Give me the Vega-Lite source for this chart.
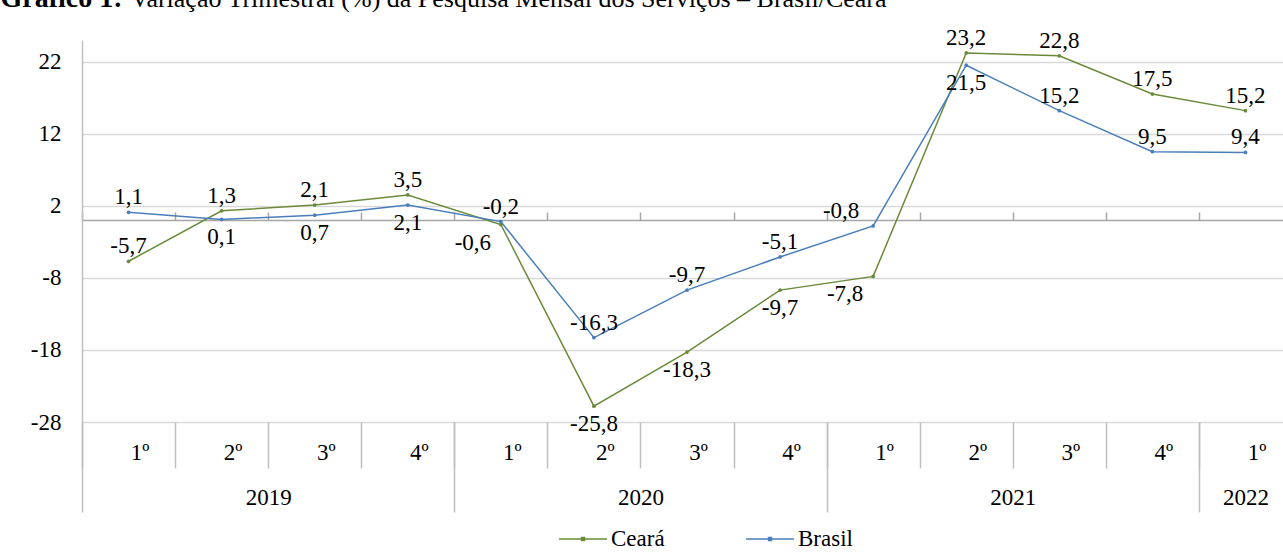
{
  "$schema": "https://vega.github.io/schema/vega-lite/v6.json",
  "width": 1210,
  "height": 382,
  "autosize": {"type": "none"},
  "padding": {"left": 82, "top": 40, "right": 0, "bottom": 135},
  "background": "white",
  "data": {"values": [
    {"periodo": 0, "ano": 2019, "serie": "Ceará", "valor": -5.7},
    {"periodo": 1, "ano": 2019, "serie": "Ceará", "valor": 1.3},
    {"periodo": 2, "ano": 2019, "serie": "Ceará", "valor": 2.1},
    {"periodo": 3, "ano": 2019, "serie": "Ceará", "valor": 3.5},
    {"periodo": 4, "ano": 2020, "serie": "Ceará", "valor": -0.6},
    {"periodo": 5, "ano": 2020, "serie": "Ceará", "valor": -25.8},
    {"periodo": 6, "ano": 2020, "serie": "Ceará", "valor": -18.3},
    {"periodo": 7, "ano": 2020, "serie": "Ceará", "valor": -9.7},
    {"periodo": 8, "ano": 2021, "serie": "Ceará", "valor": -7.8},
    {"periodo": 9, "ano": 2021, "serie": "Ceará", "valor": 23.2},
    {"periodo": 10, "ano": 2021, "serie": "Ceará", "valor": 22.8},
    {"periodo": 11, "ano": 2021, "serie": "Ceará", "valor": 17.5},
    {"periodo": 12, "ano": 2022, "serie": "Ceará", "valor": 15.2},
    {"periodo": 0, "ano": 2019, "serie": "Brasil", "valor": 1.1},
    {"periodo": 1, "ano": 2019, "serie": "Brasil", "valor": 0.1},
    {"periodo": 2, "ano": 2019, "serie": "Brasil", "valor": 0.7},
    {"periodo": 3, "ano": 2019, "serie": "Brasil", "valor": 2.1},
    {"periodo": 4, "ano": 2020, "serie": "Brasil", "valor": -0.2},
    {"periodo": 5, "ano": 2020, "serie": "Brasil", "valor": -16.3},
    {"periodo": 6, "ano": 2020, "serie": "Brasil", "valor": -9.7},
    {"periodo": 7, "ano": 2020, "serie": "Brasil", "valor": -5.1},
    {"periodo": 8, "ano": 2021, "serie": "Brasil", "valor": -0.8},
    {"periodo": 9, "ano": 2021, "serie": "Brasil", "valor": 21.5},
    {"periodo": 10, "ano": 2021, "serie": "Brasil", "valor": 15.2},
    {"periodo": 11, "ano": 2021, "serie": "Brasil", "valor": 9.5},
    {"periodo": 12, "ano": 2022, "serie": "Brasil", "valor": 9.4}
  ]},
  "encoding": {
    "y": {"field": "valor", "type": "quantitative",
      "scale": {"domain": [-28, 25], "nice": false, "zero": false},
      "axis": {"values": [-28, -18, -8, 2, 12, 22], "grid": true, "gridColor": "#d9d9d9", "gridWidth": 1.5, "domainColor": "#c0c0c0", "domainWidth": 1.5, "ticks": false, "labelPadding": 21, "labelFontSize": 23, "labelFont": "Liberation Serif", "labelColor": "black", "format": "d",
        "title": "Gráfico 1:", "titleX": -82, "titleY": -34, "titleAngle": 0, "titleAlign": "left", "titleBaseline": "alphabetic", "titleFontSize": 28, "titleFontWeight": "bold", "titleFont": "Liberation Serif", "titleColor": "black"}}
  },
  "layer": [
    {
      "mark": {"type": "line", "strokeWidth": 1.5},
      "encoding": {
        "x": {"field": "periodo", "type": "quantitative", "scale": {"domain": [-0.5, 12.5], "nice": false, "zero": false},
          "axis": {"orient": "bottom", "values": [-0.5, 0.5, 1.5, 2.5, 3.5, 4.5, 5.5, 6.5, 7.5, 8.5, 9.5, 10.5, 11.5, 12.5], "labels": false, "domain": false, "ticks": true, "tickSize": 46, "tickColor": "#bfbfbf", "tickWidth": 1.5, "grid": false, "title": null}},
        "color": {"field": "serie", "type": "nominal",
          "scale": {"domain": ["Ceará", "Brasil"], "range": ["#6a8a3a", "#4a7ebb"]},
          "legend": {"title": null, "orient": "none", "legendX": 476, "legendY": 474, "direction": "horizontal", "symbolType": "M-1,0H1M-0.06,-0.06H0.06V0.06H-0.06Z", "symbolSize": 2300, "symbolStrokeWidth": 1.5, "labelFontSize": 23, "labelFont": "Liberation Serif", "labelColor": "black", "labelOffset": 3, "columnPadding": 78}}
      }
    },
    {
      "mark": {"type": "point", "filled": true, "size": 14, "opacity": 1},
      "encoding": {
        "x": {"field": "periodo", "type": "quantitative",
          "axis": {"orient": "bottom", "values": [0, 1, 2, 3, 4, 5, 6, 7, 8, 9, 10, 11, 12], "labelExpr": "(datum.value % 4 + 1) + 'º'", "ticks": false, "domain": false, "grid": false, "title": null, "labelPadding": 19, "labelOffset": 11, "labelFontSize": 23, "labelFont": "Liberation Serif", "labelColor": "black", "labelOverlap": false}},
        "color": {"field": "serie", "type": "nominal"}
      }
    },
    {
      "transform": [{"filter": "(datum.serie === 'Ceará' && indexof([0,1,2,3,9,10,11,12], datum.periodo) >= 0) || (datum.serie === 'Brasil' && indexof([0,4,5,6,7,10,11,12], datum.periodo) >= 0)"}],
      "mark": {"type": "text", "dy": -15, "fontSize": 23, "font": "Liberation Serif", "color": "black", "baseline": "middle"},
      "encoding": {
        "x": {"field": "periodo", "type": "quantitative",
          "axis": {"orient": "bottom", "values": [-0.5, 3.5, 7.5, 11.5, 12.5], "labels": false, "domain": false, "ticks": true, "tickSize": 90, "tickColor": "#bfbfbf", "tickWidth": 1.5, "grid": false, "title": null}},
        "text": {"field": "valor", "type": "quantitative", "format": ".1f"}
      }
    },
    {
      "transform": [{"filter": "(datum.serie === 'Ceará' && indexof([5,6,7], datum.periodo) >= 0) || (datum.serie === 'Brasil' && indexof([1,2,3,9], datum.periodo) >= 0)"}],
      "mark": {"type": "text", "dy": 18, "fontSize": 23, "font": "Liberation Serif", "color": "black", "baseline": "middle"},
      "encoding": {
        "x": {"field": "periodo", "type": "quantitative",
          "axis": {"orient": "bottom", "values": [1.5, 5.5, 9.5, 12], "labelExpr": "datum.value < 4 ? '2019' : datum.value < 8 ? '2020' : datum.value < 12 ? '2021' : '2022'", "ticks": false, "domain": false, "grid": false, "title": null, "labelPadding": 64, "labelFontSize": 23, "labelFont": "Liberation Serif", "labelColor": "black", "labelOverlap": false}},
        "text": {"field": "valor", "type": "quantitative", "format": ".1f"}
      }
    },
    {
      "transform": [{"filter": "datum.serie === 'Ceará' && indexof([4,8], datum.periodo) >= 0"}],
      "mark": {"type": "text", "dx": -28, "dy": 18, "fontSize": 23, "font": "Liberation Serif", "color": "black", "baseline": "middle"},
      "encoding": {
        "x": {"field": "periodo", "type": "quantitative",
          "axis": {"orient": "top", "offset": -180, "values": [-0.5, 0.5, 1.5, 2.5, 3.5, 4.5, 5.5, 6.5, 7.5, 8.5, 9.5, 10.5, 11.5, 12.5], "labels": false, "domain": true, "domainColor": "#a6a6a6", "domainWidth": 1.5, "ticks": true, "tickSize": 8, "tickColor": "#a6a6a6", "tickWidth": 1.5, "grid": false,
            "title": "Variação Trimestral (%) da Pesquisa Mensal dos Serviços – Brasil/Ceará", "titleX": 48, "titleY": -214, "titleAlign": "left", "titleBaseline": "alphabetic", "titleAngle": 0, "titleFontSize": 26, "titleFontWeight": "normal", "titleFont": "Liberation Serif", "titleColor": "black"}},
        "text": {"field": "valor", "type": "quantitative", "format": ".1f"}
      }
    },
    {
      "transform": [{"filter": "datum.serie === 'Brasil' && datum.periodo === 8"}],
      "mark": {"type": "text", "dx": -32, "dy": -15, "fontSize": 23, "font": "Liberation Serif", "color": "black", "baseline": "middle"},
      "encoding": {
        "x": {"field": "periodo", "type": "quantitative", "axis": null},
        "text": {"field": "valor", "type": "quantitative", "format": ".1f"}
      }
    }
  ],
  "resolve": {"axis": {"x": "independent"}},
  "config": {
    "font": "Liberation Serif",
    "view": {"stroke": null},
    "locale": {"number": {"decimal": ",", "thousands": ".", "grouping": [3], "currency": ["R$", ""], "minus": "-"}}
  }
}
